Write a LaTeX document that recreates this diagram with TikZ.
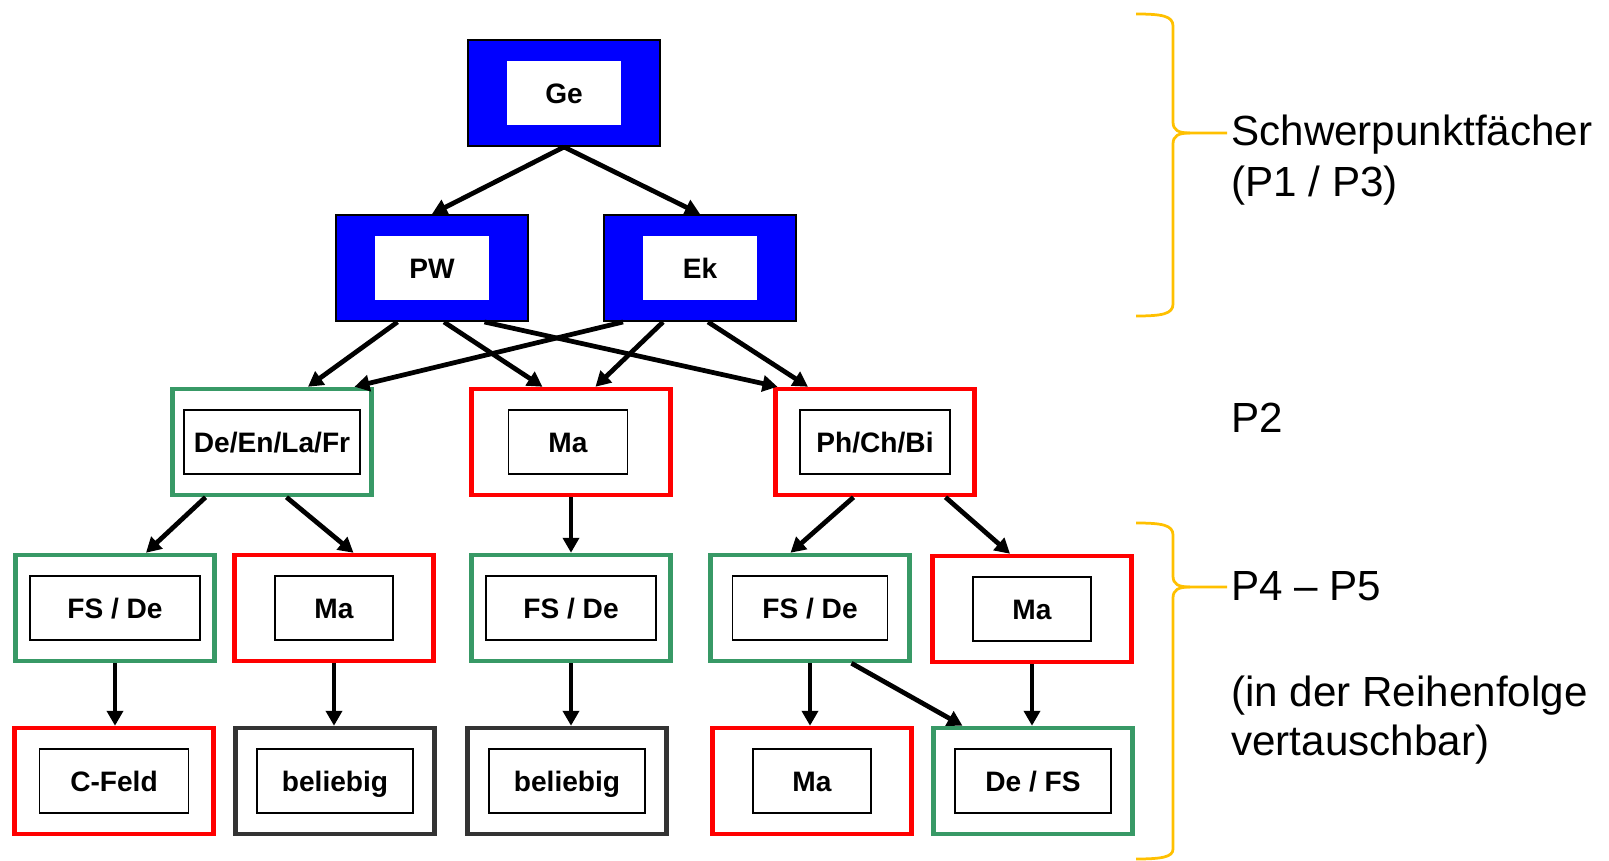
\documentclass[tikz,border=0pt]{standalone}
\usepackage{fontspec}
\setmainfont{Liberation Sans}
\usepackage{tikz}
\usetikzlibrary{arrows.meta}
\definecolor{subjgreen}{RGB}{56,153,102}
\definecolor{subjred}{RGB}{255,0,0}
\definecolor{subjgrey}{RGB}{51,51,51}
\definecolor{subjblue}{RGB}{0,0,255}
\definecolor{braceorange}{RGB}{255,192,0}

\begin{document}
\begin{tikzpicture}[x=0.02cm,y=-0.02cm,
    subjbox/.style={draw=#1,rectangle,line width=0.09cm,fill=white,minimum width=3.98cm,minimum height=2.12cm,inner sep=0pt},
    core/.style={draw=black,rectangle,line width=0.035cm,fill=white,minimum width=#1,minimum height=1.27cm,inner sep=0pt,text height=11.5pt,text depth=0pt,font=\bfseries\fontsize{16}{18}\selectfont},
    lead/.style={draw=black,rectangle,line width=0.03cm,fill=subjblue,minimum width=3.85cm,minimum height=2.13cm},
    leadcore/.style={rectangle,fill=white,minimum width=2.28cm,minimum height=1.3cm,inner sep=0pt,text height=11.5pt,text depth=0pt,font=\bfseries\fontsize{16}{18}\selectfont},
    link/.style={-{Triangle[length=0.3cm,width=0.32cm]},line width=0.095cm},
    curly/.style={draw=braceorange,line width=0.055cm},
    sidetext/.style={anchor=base west,inner sep=0pt,font=\fontsize{24}{29}\selectfont}]

  \useasboundingbox (0,0) rectangle (1609,861);

  \node[lead] (ge) at (564,93) {};
  \node[leadcore] (ge-t) at (ge) {Ge};
  \node[lead] (pw) at (432,268) {};
  \node[leadcore] (pw-t) at (pw) {PW};
  \node[lead] (ek) at (700,268) {};
  \node[leadcore] (ek-t) at (ek) {Ek};

  \node[subjbox=subjgreen] (spr) at (272,442) {};
  \node[core=3.52cm] (spr-t) at (spr) {De/En/La/Fr};
  \node[subjbox=subjred] (ma) at (571,442) {};
  \node[core=2.38cm] (ma-t) at ([xshift=-0.06cm]ma) {Ma};
  \node[subjbox=subjred] (nw) at (875,442) {};
  \node[core=3.0cm] (nw-t) at (nw) {Ph/Ch/Bi};

  \node[subjbox=subjgreen] (fsa) at (115,608) {};
  \node[core=3.4cm] (fsa-t) at (fsa) {FS / De};
  \node[subjbox=subjred] (maa) at (334,608) {};
  \node[core=2.36cm] (maa-t) at (maa) {Ma};
  \node[subjbox=subjgreen] (fsb) at (571,608) {};
  \node[core=3.4cm] (fsb-t) at (fsb) {FS / De};
  \node[subjbox=subjgreen] (fsc) at (810,608) {};
  \node[core=3.1cm] (fsc-t) at (fsc) {FS / De};
  \node[subjbox=subjred] (mab) at (1032,609) {};
  \node[core=2.36cm] (mab-t) at (mab) {Ma};

  \node[subjbox=subjred] (cf) at (114,781) {};
  \node[core=2.98cm] (cf-t) at (cf) {C-Feld};
  \node[subjbox=subjgrey] (bela) at (335,781) {};
  \node[core=3.12cm] (bela-t) at (bela) {beliebig};
  \node[subjbox=subjgrey] (belb) at (567,781) {};
  \node[core=3.12cm] (belb-t) at (belb) {beliebig};
  \node[subjbox=subjred] (mac) at (812,781) {};
  \node[core=2.36cm] (mac-t) at (mac) {Ma};
  \node[subjbox=subjgreen] (defs) at (1033,781) {};
  \node[core=3.12cm] (defs-t) at (defs) {De / FS};

  \draw[link] (ge.south) -- (pw.north);
  \draw[link] (ge.south) -- (ek.north);
  \draw[link] ([xshift=-0.69cm]pw.south) -- ([xshift=0.72cm]spr.north);
  \draw[link] ([xshift=0.24cm]pw.south) -- ([xshift=-0.57cm]ma.north);
  \draw[link] ([xshift=1.05cm]pw.south) -- ([xshift=-1.95cm]nw.north);
  \draw[link] ([xshift=-1.54cm]ek.south) -- ([xshift=1.65cm]spr.north);
  \draw[link] ([xshift=-0.74cm]ek.south) -- ([xshift=0.49cm]ma.north);
  \draw[link] ([xshift=0.16cm]ek.south) -- ([xshift=-1.34cm]nw.north);

  \draw[link] ([xshift=-1.33cm]spr.south) -- ([xshift=0.62cm]fsa.north);
  \draw[link] ([xshift=0.29cm]spr.south) -- ([xshift=0.39cm]maa.north);
  \draw[link] (ma.south) -- (ma.south |- fsb.north);
  \draw[link] ([xshift=-0.43cm]nw.south) -- ([xshift=-0.39cm]fsc.north);
  \draw[link] ([xshift=1.41cm]nw.south) -- ([xshift=-0.44cm]mab.north);

  \draw[link] (fsa.south) -- (fsa.south |- cf.north);
  \draw[link] (maa.south) -- (maa.south |- bela.north);
  \draw[link] (fsb.south) -- (fsb.south |- belb.north);
  \draw[link] (fsc.south) -- (fsc.south |- mac.north);
  \draw[link] ([xshift=0.83cm]fsc.south) -- ([xshift=-1.41cm]defs.north);
  \draw[link] (mab.south) -- (mab.south |- defs.north);

  \draw[curly] (1136,14) .. controls (1162,14) and (1173,16) .. (1173,26) -- (1173,122) .. controls (1173,130) and (1178,133) .. (1190,133) -- (1227,133);
  \draw[curly] (1190,133) .. controls (1178,133) and (1173,136) .. (1173,144) -- (1173,304) .. controls (1173,314) and (1162,316) .. (1136,316);
  \draw[curly] (1136,523) .. controls (1162,523) and (1173,525) .. (1173,535) -- (1173,576) .. controls (1173,584) and (1178,587) .. (1190,587) -- (1227,587);
  \draw[curly] (1190,587) .. controls (1178,587) and (1173,590) .. (1173,598) -- (1173,849) .. controls (1173,857) and (1162,859) .. (1136,859);

  \node[sidetext] (sp) at (1231,146) {Schwerpunktfächer};
  \node[sidetext] (spp) at (1231,197) {(P1 / P3)};
  \node[sidetext] (ptwo) at (1231,433) {P2};
  \node[sidetext] (pfour) at (1231,600) {P4 – P5};
  \node[sidetext] (order) at (1231,706) {(in der Reihenfolge};
  \node[sidetext] (orderb) at (1231,755) {vertauschbar)};
\end{tikzpicture}
\end{document}
